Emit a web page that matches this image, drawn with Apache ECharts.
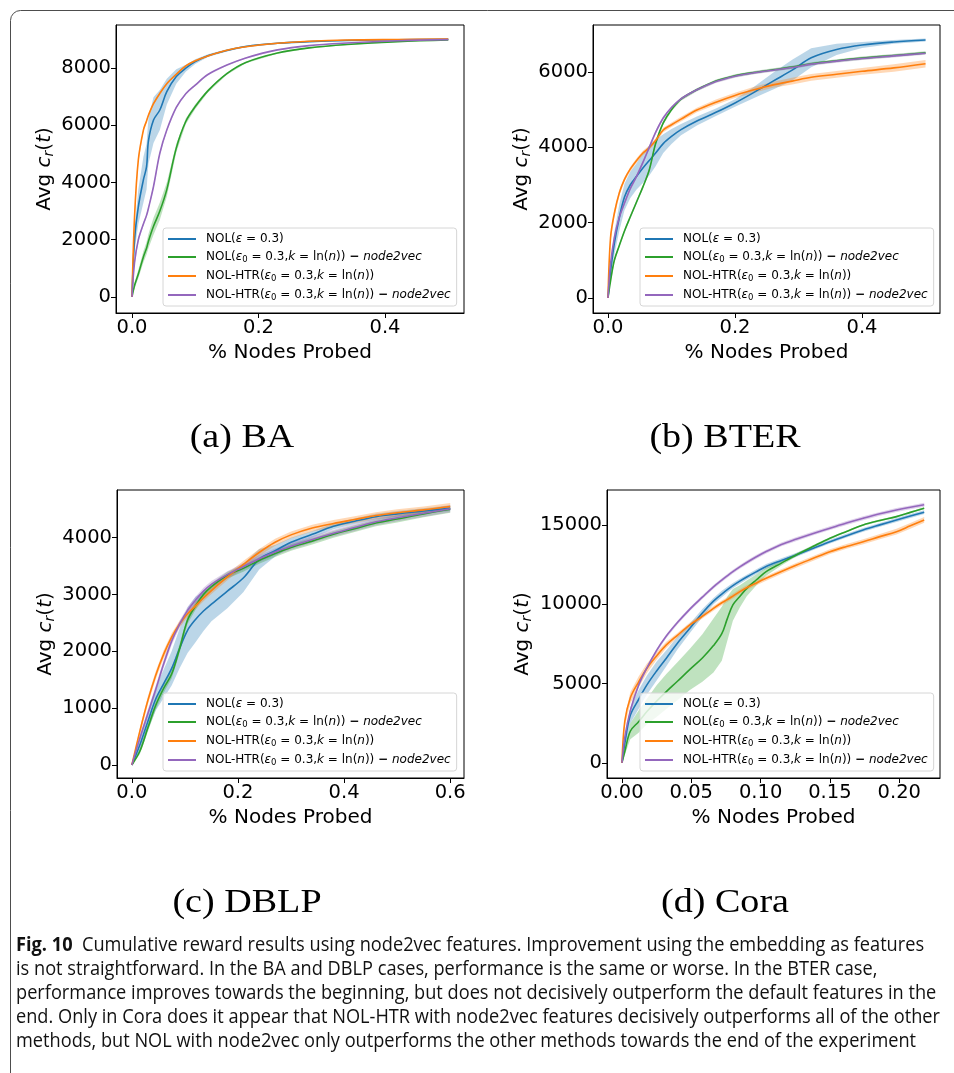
<!DOCTYPE html>
<html>
<head>
<meta charset="utf-8">
<script src="https://cdn.jsdelivr.net/npm/echarts@6/dist/echarts.min.js"></script>
<style>
  html, body { margin: 0; padding: 0; background: #fff; }
  #chart { width: 954px; height: 1073px; }
</style>
</head>
<body>
<div id="chart"></div>
<script>
// ---- (a) BA ----
const xA = [0, 0.004, 0.01, 0.018, 0.023, 0.026, 0.034, 0.044, 0.055, 0.07, 0.085, 0.1, 0.12, 0.15, 0.18, 0.23, 0.28, 0.34, 0.42, 0.5];
const nolA     = [0, 1990, 3150, 4090, 4550, 5450, 6180, 6530, 7170, 7700, 7990, 8220, 8430, 8610, 8750, 8860, 8920, 8960, 8985, 9000];
const nolN2vA  = [0, 400, 800, 1400, 1700, 1950, 2470, 3000, 3750, 5200, 6130, 6650, 7200, 7800, 8190, 8520, 8700, 8820, 8920, 8975];
const htrA     = [0, 2800, 4790, 5830, 6150, 6350, 6750, 7110, 7450, 7780, 8070, 8250, 8420, 8620, 8740, 8860, 8930, 8975, 8995, 9010];
const htrN2vA  = [0, 1200, 2000, 2550, 2850, 3100, 3860, 5020, 5830, 6620, 7100, 7400, 7770, 8100, 8350, 8630, 8780, 8870, 8950, 8990];
const nolSdA    = [0, 400, 600, 800, 800, 800, 800, 700, 450, 250, 120, 80, 50, 40, 30, 20, 20, 15, 10, 10];
const nolN2vSdA = [0, 100, 150, 200, 220, 250, 300, 300, 250, 150, 100, 80, 60, 40, 30, 25, 20, 15, 10, 10];
const htrSdA    = [0, 100, 80, 60, 55, 50, 40, 40, 30, 30, 30, 25, 25, 20, 20, 20, 15, 15, 15, 15];
const htrN2vSdA = [0, 100, 80, 70, 65, 60, 60, 60, 50, 40, 30, 30, 25, 20, 20, 20, 15, 15, 15, 15];

// ---- (b) BTER ----
const xB = [0, 0.004, 0.01, 0.018, 0.026, 0.035, 0.045, 0.055, 0.065, 0.075, 0.087, 0.1, 0.115, 0.14, 0.17, 0.2, 0.23, 0.26, 0.29, 0.32, 0.36, 0.4, 0.45, 0.5];
const nolB     = [0, 700, 1450, 2150, 2680, 3000, 3230, 3450, 3650, 3850, 4100, 4290, 4470, 4700, 4930, 5180, 5460, 5760, 6050, 6380, 6600, 6720, 6800, 6850];
const nolN2vB  = [0, 450, 1000, 1400, 1780, 2150, 2550, 2950, 3400, 4100, 4650, 5000, 5280, 5530, 5760, 5900, 5990, 6060, 6130, 6220, 6300, 6370, 6440, 6510];
const htrB     = [0, 1600, 2250, 2800, 3150, 3420, 3650, 3850, 3990, 4180, 4460, 4600, 4750, 4990, 5200, 5380, 5530, 5660, 5760, 5860, 5940, 6020, 6110, 6220];
const htrN2vB  = [0, 900, 1600, 2150, 2520, 2900, 3230, 3600, 4000, 4400, 4780, 5060, 5290, 5530, 5750, 5890, 5980, 6050, 6120, 6210, 6290, 6360, 6430, 6500];
const nolSdB    = [0, 200, 300, 350, 350, 350, 350, 400, 400, 350, 250, 200, 150, 120, 100, 100, 150, 220, 280, 250, 150, 80, 50, 40];
const nolN2vSdB = [0, 60, 60, 50, 50, 50, 50, 50, 50, 50, 50, 40, 40, 40, 40, 40, 40, 40, 40, 40, 40, 40, 40, 40];
const htrSdB    = [0, 100, 100, 80, 60, 60, 60, 60, 60, 60, 60, 60, 60, 60, 70, 70, 80, 80, 90, 90, 90, 90, 100, 100];
const htrN2vSdB = [0, 60, 60, 50, 50, 50, 50, 50, 50, 50, 50, 40, 40, 40, 40, 40, 40, 40, 40, 40, 40, 40, 40, 40];

// ---- (c) DBLP ----
const xC = [0, 0.015, 0.03, 0.045, 0.06, 0.075, 0.09, 0.105, 0.12, 0.135, 0.15, 0.18, 0.21, 0.24, 0.27, 0.3, 0.34, 0.38, 0.42, 0.46, 0.5, 0.55, 0.6];
const nolC     = [0, 350, 760, 1160, 1430, 1700, 2050, 2370, 2560, 2710, 2830, 3060, 3290, 3620, 3770, 3920, 4060, 4200, 4290, 4370, 4420, 4470, 4520];
const nolN2vC  = [0, 240, 650, 1050, 1350, 1600, 2050, 2550, 2800, 3000, 3140, 3340, 3460, 3600, 3720, 3830, 3940, 4060, 4160, 4260, 4330, 4420, 4500];
const htrC     = [0, 590, 1130, 1580, 1950, 2250, 2480, 2660, 2800, 2940, 3070, 3310, 3530, 3740, 3920, 4050, 4170, 4250, 4320, 4390, 4440, 4490, 4550];
const htrN2vC  = [0, 470, 900, 1330, 1780, 2180, 2480, 2720, 2900, 3060, 3180, 3350, 3490, 3630, 3750, 3850, 3970, 4080, 4180, 4280, 4350, 4430, 4510];
const nolSdC    = [0, 100, 150, 200, 250, 300, 350, 400, 400, 350, 300, 300, 250, 180, 100, 80, 60, 50, 50, 50, 50, 50, 50];
const nolN2vSdC = [0, 50, 70, 80, 80, 80, 80, 70, 70, 60, 60, 60, 60, 60, 60, 60, 60, 60, 60, 60, 60, 60, 60];
const htrSdC    = [0, 60, 70, 70, 70, 70, 60, 60, 60, 60, 60, 60, 60, 60, 60, 60, 60, 60, 60, 60, 60, 60, 60];
const htrN2vSdC = [0, 60, 70, 70, 70, 70, 60, 60, 60, 60, 60, 60, 60, 60, 60, 60, 60, 60, 60, 60, 60, 60, 60];

// ---- (d) Cora ----
const xD = [0, 0.002, 0.006, 0.012, 0.018, 0.025, 0.032, 0.04, 0.049, 0.058, 0.066, 0.072, 0.076, 0.08, 0.085, 0.09, 0.097, 0.104, 0.115, 0.126, 0.138, 0.15, 0.162, 0.174, 0.186, 0.198, 0.208, 0.218];
const nolD     = [0, 1200, 3000, 4000, 4920, 5800, 6600, 7550, 8490, 9450, 10200, 10650, 10930, 11180, 11460, 11720, 12060, 12390, 12770, 13130, 13540, 13950, 14330, 14690, 15010, 15320, 15570, 15810];
const nolN2vD  = [0, 700, 2000, 2600, 3240, 3900, 4500, 5150, 5900, 6620, 7400, 8150, 9100, 9960, 10500, 11010, 11550, 12060, 12600, 13130, 13660, 14170, 14600, 15010, 15290, 15530, 15800, 16060];
const htrD     = [0, 2600, 4100, 5100, 5970, 6750, 7440, 8050, 8700, 9250, 9750, 10100, 10300, 10520, 10800, 11050, 11350, 11640, 12070, 12480, 12900, 13320, 13650, 13950, 14270, 14580, 14950, 15320];
const htrN2vD  = [0, 1600, 3300, 4900, 6000, 7100, 8000, 8850, 9700, 10450, 11100, 11530, 11800, 12060, 12360, 12640, 13000, 13330, 13780, 14120, 14470, 14800, 15130, 15430, 15710, 15950, 16120, 16280];
const nolSdD    = [0, 300, 500, 600, 600, 600, 500, 400, 300, 250, 200, 200, 180, 170, 160, 150, 150, 150, 140, 130, 120, 120, 120, 120, 120, 120, 120, 120];
const nolN2vSdD = [0, 200, 500, 700, 800, 1000, 1100, 1200, 1300, 1500, 1700, 1700, 1400, 1000, 700, 500, 350, 250, 150, 100, 80, 60, 60, 60, 60, 60, 60, 60];
const htrSdD    = [0, 300, 350, 350, 300, 250, 200, 150, 150, 150, 150, 150, 150, 150, 150, 150, 150, 150, 150, 150, 150, 150, 150, 160, 170, 180, 180, 180];
const htrN2vSdD = [0, 150, 150, 150, 120, 120, 120, 120, 120, 120, 120, 120, 120, 120, 120, 120, 120, 120, 120, 120, 120, 120, 120, 120, 120, 120, 120, 120];

// tick values
const xTicksAB = [0, 0.2, 0.4];
const xTicksC = [0, 0.2, 0.4, 0.6];
const xTicksD = [0, 0.05, 0.1, 0.15, 0.2];
const yTicksA = [0, 2000, 4000, 6000, 8000];
const yTicksB = [0, 2000, 4000, 6000];
const yTicksC = [0, 1000, 2000, 3000, 4000];
const yTicksD = [0, 5000, 10000, 15000];

const seriesNames = [
  'NOL(ε = 0.3)',
  'NOL(ε0 = 0.3,k = ln(n)) − node2vec',
  'NOL-HTR(ε0 = 0.3,k = ln(n))',
  'NOL-HTR(ε0 = 0.3,k = ln(n)) − node2vec'
];
const seriesColors = ['#1f77b4', '#2ca02c', '#ff7f0e', '#9467bd'];
const legendRich = {
  'NOL(ε = 0.3)': '{n|NOL(}{i|ε}{n| = 0.3)}',
  'NOL(ε0 = 0.3,k = ln(n)) − node2vec': '{n|NOL(}{i|ε}{s|0}{n| = 0.3,}{i|k}{n| = ln(}{i|n}{n|)) }{m|−}{n| }{i|node2vec}',
  'NOL-HTR(ε0 = 0.3,k = ln(n))': '{n|NOL-HTR(}{i|ε}{s|0}{n| = 0.3,}{i|k}{n| = ln(}{i|n}{n|))}',
  'NOL-HTR(ε0 = 0.3,k = ln(n)) − node2vec': '{n|NOL-HTR(}{i|ε}{s|0}{n| = 0.3,}{i|k}{n| = ln(}{i|n}{n|)) }{m|−}{n| }{i|node2vec}'
};

const panels = [
  { x: xA, ys: [nolA, nolN2vA, htrA, htrN2vA], sd: [nolSdA, nolN2vSdA, htrSdA, htrN2vSdA],
    grid: { left: 116, top: 25, width: 348, height: 288 }, xr: [-0.0253, 0.5249], yr: [-560, 9500],
    xt: xTicksAB, yt: yTicksA, xd: 1, legend: { left: 163, top: 228 }, yGap: 60 },
  { x: xB, ys: [nolB, nolN2vB, htrB, htrN2vB], sd: [nolSdB, nolN2vSdB, htrSdB, htrN2vSdB],
    grid: { left: 593, top: 25, width: 347, height: 288 }, xr: [-0.0236, 0.5228], yr: [-400, 7250],
    xt: xTicksAB, yt: yTicksB, xd: 1, legend: { left: 640, top: 228 }, yGap: 60 },
  { x: xC, ys: [nolC, nolN2vC, htrC, htrN2vC], sd: [nolSdC, nolN2vSdC, htrSdC, htrN2vSdC],
    grid: { left: 117, top: 490, width: 347, height: 288 }, xr: [-0.028, 0.626], yr: [-230, 4840],
    xt: xTicksC, yt: yTicksC, xd: 1, legend: { left: 163, top: 693 }, yGap: 60 },
  { x: xD, ys: [nolD, nolN2vD, htrD, htrN2vD], sd: [nolSdD, nolN2vSdD, htrSdD, htrN2vSdD],
    grid: { left: 607, top: 490, width: 333, height: 288 }, xr: [-0.0108, 0.2294], yr: [-950, 17210],
    xt: xTicksD, yt: yTicksD, xd: 2, legend: { left: 640, top: 693 }, yGap: 73 }
];

const tickFont = 'DejaVu Sans';
const grids = [], xAxes = [], yAxes = [], legends = [], series = [];

panels.forEach((p, gi) => {
  grids.push(Object.assign({ show: true, borderColor: '#000', borderWidth: 1, backgroundColor: 'transparent' }, p.grid));
  xAxes.push({
    type: 'value', gridIndex: gi, min: p.xr[0], max: p.xr[1],
    name: '% Nodes Probed', nameLocation: 'middle', nameGap: 30,
    nameTextStyle: { fontFamily: tickFont, fontSize: 20, color: '#000' },
    axisLine: { show: true, onZero: false, lineStyle: { color: '#000', width: 1 } },
    axisTick: { show: true, length: 5, lineStyle: { color: '#000' }, customValues: p.xt },
    axisLabel: { fontFamily: tickFont, fontSize: 19.5, color: '#000', margin: 5,
      customValues: p.xt, formatter: v => v.toFixed(p.xd) },
    splitLine: { show: false }
  });
  yAxes.push({
    type: 'value', gridIndex: gi, min: p.yr[0], max: p.yr[1],
    name: '{n|Avg }{i|c}{s|r}{n|(}{i|t}{n|)}', nameLocation: 'middle', nameGap: p.yGap, nameRotate: 90,
    nameTextStyle: { rich: {
      n: { fontFamily: tickFont, fontSize: 20, color: '#000' },
      i: { fontFamily: tickFont, fontSize: 20, fontStyle: 'italic', color: '#000' },
      s: { fontFamily: tickFont, fontSize: 14, fontStyle: 'italic', color: '#000', padding: [8, 0, 0, 0] }
    } },
    axisLine: { show: true, onZero: false, lineStyle: { color: '#000', width: 1 } },
    axisTick: { show: true, length: 5, lineStyle: { color: '#000' }, customValues: p.yt },
    axisLabel: { fontFamily: tickFont, fontSize: 19.5, color: '#000', margin: 5, customValues: p.yt,
      formatter: v => String(Math.round(v)) },
    splitLine: { show: false }
  });
  legends.push({
    orient: 'vertical', left: p.legend.left, top: p.legend.top,
    data: seriesNames, icon: 'rect', itemWidth: 28, itemHeight: 2, itemGap: 6,
    padding: [5, 6, 4, 5],
    backgroundColor: 'rgba(255,255,255,0.8)', borderColor: '#d6d6d6', borderWidth: 1, borderRadius: 3,
    selectedMode: false,
    formatter: name => legendRich[name],
    textStyle: { padding: [0, 0, 0, 5], rich: {
      n: { fontFamily: tickFont, fontSize: 12, color: '#000', lineHeight: 15 },
      m: { fontFamily: tickFont, fontSize: 12, fontWeight: 'bold', color: '#000', lineHeight: 15 },
      i: { fontFamily: tickFont, fontSize: 12, fontStyle: 'italic', color: '#000', lineHeight: 15 },
      s: { fontFamily: tickFont, fontSize: 8.5, color: '#000', padding: [5, 0, 0, 0] }
    } }
  });

  // shaded spread around each mean curve
  p.ys.forEach((ys, si) => {
    const sd = p.sd[si];
    series.push({
      type: 'custom', name: 'spread' + gi + si, xAxisIndex: gi, yAxisIndex: gi,
      data: [0], silent: true, z: 1,
      renderItem: (params, api) => {
        const upper = p.x.map((x, i) => api.coord([x, ys[i] + sd[i]]));
        const lower = p.x.map((x, i) => api.coord([x, Math.max(0, ys[i] - sd[i])])).reverse();
        return { type: 'polygon', shape: { points: upper.concat(lower) },
          style: { fill: seriesColors[si], opacity: 0.3 } };
      }
    });
  });
  p.ys.forEach((ys, si) => {
    series.push({
      type: 'line', name: seriesNames[si], xAxisIndex: gi, yAxisIndex: gi,
      data: p.x.map((x, i) => [x, ys[i]]),
      showSymbol: false, symbol: 'none', smooth: 0.35,
      lineStyle: { color: seriesColors[si], width: 1.6 }, itemStyle: { color: seriesColors[si] },
      z: 2 + si
    });
  });
});

// figure caption: one row per line, condensed by a shared horizontal scale
const capLines = [
  '{b|Fig. 10}  Cumulative reward results using node2vec features. Improvement using the embedding as features',
  'is not straightforward. In the BA and DBLP cases, performance is the same or worse. In the BTER case,',
  'performance improves towards the beginning, but does not decisively outperform the default features in the',
  'end. Only in Cora does it appear that NOL-HTR with node2vec features decisively outperforms all of the other',
  'methods, but NOL with node2vec only outperforms the other methods towards the end of the experiment'
];
const capFont = '"Open Sans"';
const capSize = 19.5;
const measure = document.createElement('canvas').getContext('2d');
measure.font = capSize + 'px ' + capFont;
const capScale = 924 / measure.measureText(capLines[3]).width;

const subFont = '34px "Liberation Serif"';
const subCaption = (text, x, y) => ({
  type: 'text', x: x, y: y, scaleX: 1.12,
  style: { text: text, font: subFont, fill: '#000', textAlign: 'center', textVerticalAlign: 'middle' }
});

const graphics = [
  { type: 'rect', left: 8, top: 8, shape: { x: 0.5, y: 0.5, width: 980, height: 1100, r: 10 },
    style: { fill: 'none', stroke: '#4d4d4d', lineWidth: 1 }, z: 0 },
  subCaption('(a) BA', 242, 438),
  subCaption('(b) BTER', 725, 438),
  subCaption('(c) DBLP', 247, 903),
  subCaption('(d) Cora', 725, 903)
];
capLines.forEach((t, i) => {
  graphics.push({
    type: 'text', x: 16, y: 945 + i * 24, scaleX: capScale,
    style: { text: t, fontFamily: capFont, fontSize: capSize, fill: '#111', verticalAlign: 'middle',
      rich: { b: { fontFamily: capFont, fontSize: capSize, fontWeight: 'bold', fill: '#111' } } }
  });
});

const chart = echarts.init(document.getElementById('chart'), null, { renderer: 'canvas' });
chart.setOption({
  animation: false,
  backgroundColor: '#fff',
  grid: grids, xAxis: xAxes, yAxis: yAxes, legend: legends, series: series,
  graphic: graphics
});
</script>
</body>
</html>
